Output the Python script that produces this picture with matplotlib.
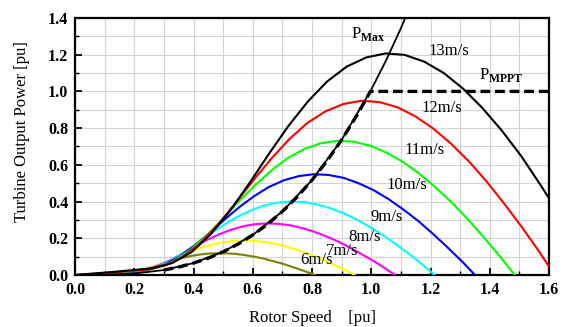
import matplotlib
matplotlib.use("Agg")
import matplotlib.pyplot as plt
from matplotlib.ticker import MultipleLocator

plt.rcParams['font.family'] = ['Liberation Serif', 'DejaVu Serif']
plt.rcParams['mathtext.fontset'] = 'custom'
plt.rcParams['mathtext.rm'] = 'Liberation Serif'
plt.rcParams['mathtext.bf'] = 'Liberation Serif:bold'
plt.rcParams['lines.scale_dashes'] = False

# wind speed curves (rotor speed pu, power pu)
speed_labels = ['6m/s', '7m/s', '8m/s', '9m/s', '10m/s', '11m/s', '12m/s', '13m/s']
colors = ['#808000', '#ffff00', '#ff00ff', '#00ffff', '#0000ff', '#00ff00', '#ff0000', '#000000']

x_6 = [0, 0.060, 0.121, 0.151, 0.181, 0.212, 0.242, 0.272, 0.302, 0.333, 0.363, 0.393, 0.423,
       0.454, 0.484, 0.514, 0.544, 0.575, 0.605, 0.635, 0.665, 0.696, 0.726, 0.756, 0.786, 0.810]
p_6 = [0, 0.002, 0.004, 0.006, 0.012, 0.022, 0.035, 0.050, 0.065, 0.080, 0.093, 0.104, 0.112,
       0.117, 0.119, 0.118, 0.115, 0.108, 0.100, 0.090, 0.077, 0.064, 0.048, 0.032, 0.015, 0]

x_7 = [0, 0.070, 0.141, 0.176, 0.211, 0.247, 0.282, 0.318, 0.352, 0.388, 0.423, 0.458, 0.493,
       0.529, 0.564, 0.599, 0.634, 0.670, 0.705, 0.740, 0.775, 0.811, 0.846, 0.881, 0.917, 0.944]
p_7 = [0, 0.003, 0.006, 0.010, 0.019, 0.035, 0.055, 0.078, 0.103, 0.126, 0.147, 0.164, 0.177,
       0.185, 0.188, 0.187, 0.181, 0.171, 0.158, 0.142, 0.122, 0.101, 0.077, 0.051, 0.023, 0]

x_8 = [0, 0.080, 0.161, 0.202, 0.242, 0.282, 0.323, 0.363, 0.403, 0.443, 0.484, 0.524, 0.564,
       0.605, 0.645, 0.685, 0.726, 0.766, 0.807, 0.846, 0.887, 0.927, 0.967, 1.008, 1.048, 1.080]
p_8 = [0, 0.004, 0.009, 0.015, 0.029, 0.052, 0.082, 0.117, 0.154, 0.189, 0.220, 0.245, 0.264,
       0.276, 0.281, 0.279, 0.271, 0.256, 0.236, 0.212, 0.183, 0.150, 0.114, 0.076, 0.035, 0]

x_9 = [0, 0.090, 0.181, 0.227, 0.272, 0.317, 0.363, 0.408, 0.453, 0.498, 0.544, 0.589, 0.634,
       0.680, 0.725, 0.770, 0.816, 0.861, 0.907, 0.951, 0.997, 1.042, 1.087, 1.133, 1.178, 1.214]
p_9 = [0, 0.006, 0.012, 0.022, 0.041, 0.074, 0.117, 0.167, 0.219, 0.269, 0.313, 0.349, 0.376,
       0.393, 0.400, 0.397, 0.385, 0.364, 0.336, 0.302, 0.260, 0.214, 0.163, 0.108, 0.049, 0]

x_10 = [0, 0.100, 0.202, 0.252, 0.302, 0.353, 0.403, 0.454, 0.504, 0.554, 0.605, 0.654, 0.705,
        0.756, 0.806, 0.856, 0.907, 0.957, 1.008, 1.058, 1.108, 1.159, 1.209, 1.259, 1.310, 1.350]
p_10 = [0, 0.008, 0.017, 0.030, 0.057, 0.101, 0.160, 0.229, 0.301, 0.369, 0.430, 0.479, 0.516,
        0.539, 0.549, 0.545, 0.529, 0.500, 0.462, 0.414, 0.357, 0.294, 0.223, 0.148, 0.068, 0]

x_11 = [0, 0.110, 0.222, 0.277, 0.332, 0.388, 0.443, 0.499, 0.553, 0.609, 0.665, 0.719, 0.775,
        0.831, 0.886, 0.941, 0.997, 1.052, 1.108, 1.163, 1.218, 1.274, 1.329, 1.384, 1.440, 1.484]
p_11 = [0, 0.010, 0.023, 0.040, 0.075, 0.135, 0.214, 0.305, 0.401, 0.491, 0.572, 0.638, 0.687,
        0.718, 0.731, 0.726, 0.704, 0.666, 0.615, 0.551, 0.476, 0.391, 0.298, 0.197, 0.090, 0]

x_12 = [0, 0.120, 0.242, 0.303, 0.362, 0.423, 0.484, 0.544, 0.604, 0.665, 0.725, 0.785, 0.846,
        0.907, 0.967, 1.027, 1.088, 1.148, 1.209, 1.269, 1.330, 1.390, 1.450, 1.511, 1.571, 1.619]
p_12 = [0, 0.013, 0.029, 0.051, 0.098, 0.175, 0.277, 0.396, 0.520, 0.638, 0.743, 0.829, 0.892,
        0.932, 0.949, 0.942, 0.914, 0.865, 0.798, 0.716, 0.618, 0.508, 0.386, 0.255, 0.117, 0]

x_13 = [0, 0.131, 0.262, 0.328, 0.393, 0.458, 0.524, 0.590, 0.655, 0.720, 0.786, 0.851, 0.917,
        0.983, 1.048, 1.113, 1.179, 1.245, 1.310, 1.375, 1.441, 1.507, 1.571, 1.637]
p_13 = [0, 0.017, 0.037, 0.065, 0.124, 0.222, 0.352, 0.503, 0.661, 0.811, 0.945, 1.054, 1.135,
        1.185, 1.207, 1.199, 1.162, 1.100, 1.015, 0.910, 0.786, 0.646, 0.491, 0.325]

x_all = [x_6, x_7, x_8, x_9, x_10, x_11, x_12, x_13]
p_all = [p_6, p_7, p_8, p_9, p_10, p_11, p_12, p_13]

# maximum power locus and MPPT reference
x_max = [0, 0.1, 0.2, 0.3, 0.4, 0.5, 0.6, 0.7, 0.8, 0.9, 1.0, 1.05, 1.1, 1.15]
p_max = [0, 0.001, 0.008, 0.027, 0.065, 0.126, 0.218, 0.346, 0.517, 0.736, 1.01, 1.169, 1.344, 1.536]

x_mppt = [0.3, 0.35, 0.4, 0.45, 0.5, 0.55, 0.6, 0.65, 0.7, 0.75, 0.8, 0.85, 0.9, 0.95, 0.997, 1.6]
p_mppt = [0.027, 0.043, 0.065, 0.092, 0.126, 0.168, 0.218, 0.277, 0.346, 0.426, 0.517, 0.620,
          0.736, 0.866, 1.0, 1.0]

# label positions (data coords)
label_x = [0.814, 0.901, 0.976, 1.053, 1.121, 1.181, 1.239, 1.263]
label_y = [0.082, 0.131, 0.207, 0.316, 0.490, 0.681, 0.909, 1.219]

fig = plt.figure(figsize=(5.66, 3.27), dpi=100)
ax = fig.add_axes([0.1325, 0.159, 0.8375, 0.786])

for xs, ps, c in zip(x_all, p_all, colors):
    ax.plot(xs, ps, color=c, lw=1.5, zorder=3)

ax.plot(x_max, p_max, color='black', lw=1.3, zorder=4)
ax.plot(x_mppt, p_mppt, color='black', lw=2.4, dashes=(7, 3.5), zorder=5)

for lbl, lx, ly in zip(speed_labels, label_x, label_y):
    ax.text(lx, ly, lbl, fontsize=12, ha='center', va='center', zorder=6)

ax.text(0.99, 1.313, r'P$_{\mathbf{Max}}$', fontsize=12, ha='center', va='center')
ax.text(1.44, 1.089, r'P$_{\mathbf{MPPT}}$', fontsize=12, ha='center', va='center')

ax.set_xlim(0, 1.6)
ax.set_ylim(0, 1.4)
ax.xaxis.set_major_locator(MultipleLocator(0.2))
ax.xaxis.set_minor_locator(MultipleLocator(0.1))
ax.yaxis.set_major_locator(MultipleLocator(0.2))
ax.yaxis.set_minor_locator(MultipleLocator(0.1))
ax.grid(True, which='both', color='#d4d4d4', lw=0.8, zorder=0)
ax.set_axisbelow(True)

ax.tick_params(which='major', direction='in', length=5, width=1.3, pad=5)
ax.tick_params(which='minor', direction='in', length=3, width=1.0)
for lab in ax.get_xticklabels() + ax.get_yticklabels():
    lab.set_fontweight('bold')
    lab.set_fontsize(11.5)
ax.xaxis.set_major_formatter(matplotlib.ticker.FormatStrFormatter('%.1f'))
ax.yaxis.set_major_formatter(matplotlib.ticker.FormatStrFormatter('%.1f'))

for sp in ax.spines.values():
    sp.set_linewidth(1.6)

ax.set_xlabel('Rotor Speed    [pu]', fontsize=12)
ax.set_ylabel('Turbine Output Power [pu]', fontsize=12)
ax.xaxis.set_label_coords(0.5, -0.135)
ax.yaxis.set_label_coords(-0.095, 0.56)

fig.savefig('out.png', dpi=100)
